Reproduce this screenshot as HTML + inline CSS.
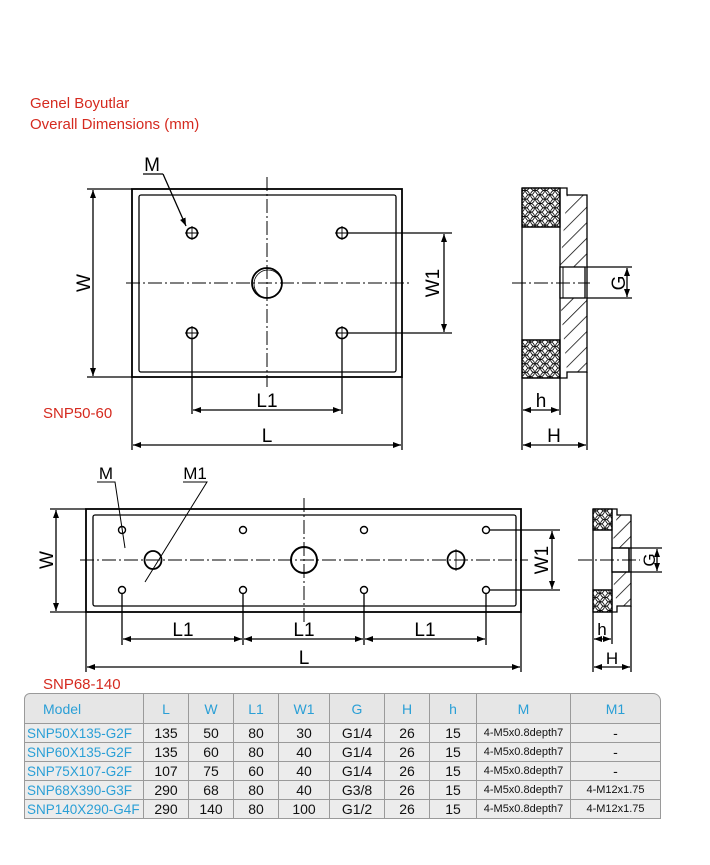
<!DOCTYPE html>
<html><head><meta charset="utf-8"><style>
body{margin:0;background:#fff;width:710px;height:865px;overflow:hidden;font-family:"Liberation Sans",sans-serif;}
svg{position:absolute;left:0;top:0}
.t{position:absolute;left:24px;top:693px;border-collapse:separate;border-spacing:0;font-size:14px;table-layout:fixed;width:637px}
.t td{border-right:1px solid #9a9a9a;border-bottom:1px solid #9a9a9a;background:#ececec;text-align:center;height:18px;padding:0;color:#111;white-space:nowrap;overflow:hidden}
.t tr:first-child td{height:29px;color:#2a9fd6;font-size:14px;background:#e6e6e6;border-top:1px solid #9a9a9a}
.t td:first-child{border-left:1px solid #9a9a9a;color:#2a9fd6;text-align:left;padding-left:2px;font-size:13.5px}
.t tr:first-child td:first-child{padding-left:18px;border-top-left-radius:6px;font-size:14px}
.t tr:first-child td:last-child{border-top-right-radius:8px}
.s{font-size:11px}
</style></head><body>
<svg width="710" height="865" viewBox="0 0 710 865" font-family="Liberation Sans, sans-serif">
<defs>
<pattern id="hex" width="10" height="8.66" patternUnits="userSpaceOnUse">
<circle cx="5" cy="4.33" r="4.5" fill="none" stroke="#000" stroke-width="0.8"/>
<circle cx="0" cy="0" r="4.5" fill="none" stroke="#000" stroke-width="0.8"/>
<circle cx="10" cy="0" r="4.5" fill="none" stroke="#000" stroke-width="0.8"/>
<circle cx="0" cy="8.66" r="4.5" fill="none" stroke="#000" stroke-width="0.8"/>
<circle cx="10" cy="8.66" r="4.5" fill="none" stroke="#000" stroke-width="0.8"/>
</pattern>
<pattern id="hatch" width="11" height="11" patternUnits="userSpaceOnUse" patternTransform="rotate(45)">
<line x1="0" y1="0" x2="0" y2="11" stroke="#000" stroke-width="1.5"/>
</pattern>
<marker id="a" markerWidth="8" markerHeight="6" refX="8" refY="3" orient="auto-start-reverse" markerUnits="userSpaceOnUse"><path d="M0,0 L8,3 L0,6z" fill="#000"/></marker>
</defs>
<text x="30" y="108" fill="#d52a1f" font-size="15">Genel Boyutlar</text>
<text x="30" y="129" fill="#d52a1f" font-size="15">Overall Dimensions (mm)</text>
<text x="43" y="418" fill="#d52a1f" font-size="15">SNP50-60</text>
<text x="43" y="689" fill="#d52a1f" font-size="15">SNP68-140</text>

<g stroke="#000" fill="none" stroke-width="1.3">
<rect x="132" y="189" width="270" height="188" stroke-width="1.8"/>
<rect x="139" y="195" width="257" height="177" rx="2"/>
<line x1="267" y1="177" x2="267" y2="387" stroke-width="1" stroke-dasharray="14,3,2,3"/>
<line x1="126" y1="283" x2="409" y2="283" stroke-width="1" stroke-dasharray="14,3,2,3"/>
<circle cx="267" cy="283" r="15" stroke-width="1.8"/><circle cx="268" cy="284" r="14" stroke-width="0.8"/>
<g stroke-width="1.6">
<circle cx="192" cy="233" r="5.5"/><circle cx="342" cy="233" r="5.5"/><circle cx="192" cy="333" r="5.5"/><circle cx="342" cy="333" r="5.5"/>
</g>
<g stroke-width="0.9">
<path d="M185,233h14M192,226v14M335,233h14M342,226v14M185,333h14M192,326v14M335,333h14M342,326v14"/>
</g>
<path d="M87,189h45M87,377h45"/>
<line x1="93" y1="190" x2="93" y2="376" marker-start="url(#a)" marker-end="url(#a)"/>
<path d="M348,233h104M348,333h104"/>
<line x1="444" y1="234" x2="444" y2="332" marker-start="url(#a)" marker-end="url(#a)"/>
<path d="M192,339v75M342,339v75"/>
<line x1="193" y1="410" x2="341" y2="410" marker-start="url(#a)" marker-end="url(#a)"/>
<path d="M132,377v73M402,377v73"/>
<line x1="133" y1="445" x2="401" y2="445" marker-start="url(#a)" marker-end="url(#a)"/>
<path d="M143,174h20" />
<line x1="163" y1="174" x2="186" y2="226" marker-end="url(#a)"/>

<rect x="522" y="188" width="38" height="39" fill="url(#hex)"/>
<rect x="522" y="340" width="38" height="38" fill="url(#hex)"/>
<path d="M560,188v190" />
<path d="M567,195h20v72h-27M560,298h27v74h-20" fill="url(#hatch)" stroke="none"/>
<path d="M560,188h7v7h20v177h-20v6h-7" fill="none"/>
<path d="M522,188h38M522,378h38M522,188v190M522,227h38M522,340h38"/>
<rect x="560" y="267" width="25" height="31" fill="#fff"/>
<path d="M560,267h27M560,298h27M585,267v31M563,267v31" stroke-width="1"/>
<line x1="512" y1="283" x2="590" y2="283" stroke-width="0.9" stroke-dasharray="14,3,2,3"/>
<path d="M587,267h45M587,298h45"/>
<line x1="627" y1="268" x2="627" y2="297" marker-start="url(#a)" marker-end="url(#a)"/>
<path d="M522,378v72M560,378v37M587,372v78"/>
<line x1="523" y1="410" x2="559" y2="410" marker-start="url(#a)" marker-end="url(#a)"/>
<line x1="523" y1="445" x2="586" y2="445" marker-start="url(#a)" marker-end="url(#a)"/>

<rect x="86" y="509" width="435" height="103" stroke-width="1.8"/>
<rect x="93" y="515" width="423" height="91" rx="2"/>
<line x1="304" y1="498" x2="304" y2="622" stroke-width="1" stroke-dasharray="14,3,2,3"/>
<line x1="80" y1="560" x2="528" y2="560" stroke-width="1" stroke-dasharray="14,3,2,3"/>
<ellipse cx="304" cy="560" rx="13" ry="13" stroke-width="2"/>
<ellipse cx="153" cy="560" rx="8.5" ry="9" stroke-width="1.8"/>
<ellipse cx="456" cy="560" rx="8.5" ry="9" stroke-width="1.8"/>
<path d="M456,549v22" stroke-width="0.8"/>
<g stroke-width="1.4">
<circle cx="122" cy="530" r="3.5"/><circle cx="243" cy="530" r="3.5"/><circle cx="364" cy="530" r="3.5"/><circle cx="486" cy="530" r="3.5"/>
<circle cx="122" cy="590" r="3.5"/><circle cx="243" cy="590" r="3.5"/><circle cx="364" cy="590" r="3.5"/><circle cx="486" cy="590" r="3.5"/>
</g>
<path d="M50,509h36M50,612h36"/>
<line x1="56" y1="510" x2="56" y2="611" marker-start="url(#a)" marker-end="url(#a)"/>
<path d="M490,530h70M490,590h70"/>
<line x1="552" y1="531" x2="552" y2="589" marker-start="url(#a)" marker-end="url(#a)"/>
<path d="M122,594v51M243,594v51M364,594v51M486,594v51"/>
<line x1="123" y1="639" x2="242" y2="639" marker-start="url(#a)" marker-end="url(#a)"/>
<line x1="244" y1="639" x2="363" y2="639" marker-start="url(#a)" marker-end="url(#a)"/>
<line x1="365" y1="639" x2="485" y2="639" marker-start="url(#a)" marker-end="url(#a)"/>
<path d="M86,612v60M521,612v60"/>
<line x1="87" y1="667" x2="520" y2="667" marker-start="url(#a)" marker-end="url(#a)"/>
<path d="M97,482h18L125,548M183,482h24L145,582" stroke-width="1"/>

<rect x="593" y="509" width="19" height="21" fill="url(#hex)"/>
<rect x="593" y="590" width="19" height="22" fill="url(#hex)"/>
<path d="M617,515h14v33h-19M612,572h19v34h-14" fill="url(#hatch)" stroke="none"/>
<path d="M612,509h5v6h14v91h-14v6h-5M612,509v103M593,509h19M593,612h19M593,509v103M593,530h19M593,590h19"/>
<rect x="612" y="548" width="17" height="24" fill="#fff"/>
<path d="M612,548h19M612,572h19M629,548v24"/>
<line x1="578" y1="560" x2="640" y2="560" stroke-width="0.9" stroke-dasharray="14,3,2,3"/>
<path d="M631,548h31M631,572h31"/>
<line x1="657" y1="549" x2="657" y2="571" marker-start="url(#a)" marker-end="url(#a)"/>
<path d="M593,612v60M612,612v32M631,606v66"/>
<line x1="594" y1="639" x2="611" y2="639" marker-start="url(#a)" marker-end="url(#a)"/>
<line x1="594" y1="667" x2="630" y2="667" marker-start="url(#a)" marker-end="url(#a)"/>
</g>

<g font-size="19" fill="#000" text-anchor="middle">
<text x="152" y="171">M</text>
<text x="90" y="283" transform="rotate(-90 90 283)">W</text>
<text x="439" y="283" transform="rotate(-90 439 283)">W1</text>
<text x="267" y="407">L1</text>
<text x="267" y="442">L</text>
<text x="625" y="283" transform="rotate(-90 625 283)">G</text>
<text x="541" y="407">h</text>
<text x="554" y="442">H</text>
<text x="106" y="479" font-size="17">M</text>
<text x="195" y="479" font-size="17">M1</text>
<text x="53" y="560" transform="rotate(-90 53 560)">W</text>
<text x="548" y="560" transform="rotate(-90 548 560)">W1</text>
<text x="183" y="636">L1</text>
<text x="304" y="636">L1</text>
<text x="425" y="636">L1</text>
<text x="304" y="664">L</text>
<text x="655" y="560" font-size="17" transform="rotate(-90 655 560)">G</text>
<text x="602" y="635" font-size="17">h</text>
<text x="612" y="664" font-size="17">H</text>
</g>
</svg>
<table class="t">
<colgroup><col style="width:120px"><col style="width:45px"><col style="width:45px"><col style="width:45px"><col style="width:51px"><col style="width:55px"><col style="width:45px"><col style="width:47px"><col style="width:94px"><col style="width:90px"></colgroup>
<tr><td>Model</td><td>L</td><td>W</td><td>L1</td><td>W1</td><td>G</td><td>H</td><td>h</td><td>M</td><td>M1</td></tr>
<tr><td>SNP50X135-G2F</td><td>135</td><td>50</td><td>80</td><td>30</td><td>G1/4</td><td>26</td><td>15</td><td class="s">4-M5x0.8depth7</td><td>-</td></tr>
<tr><td>SNP60X135-G2F</td><td>135</td><td>60</td><td>80</td><td>40</td><td>G1/4</td><td>26</td><td>15</td><td class="s">4-M5x0.8depth7</td><td>-</td></tr>
<tr><td>SNP75X107-G2F</td><td>107</td><td>75</td><td>60</td><td>40</td><td>G1/4</td><td>26</td><td>15</td><td class="s">4-M5x0.8depth7</td><td>-</td></tr>
<tr><td>SNP68X390-G3F</td><td>290</td><td>68</td><td>80</td><td>40</td><td>G3/8</td><td>26</td><td>15</td><td class="s">4-M5x0.8depth7</td><td class="s">4-M12x1.75</td></tr>
<tr><td>SNP140X290-G4F</td><td>290</td><td>140</td><td>80</td><td>100</td><td>G1/2</td><td>26</td><td>15</td><td class="s">4-M5x0.8depth7</td><td class="s">4-M12x1.75</td></tr>
</table>
</body></html>
